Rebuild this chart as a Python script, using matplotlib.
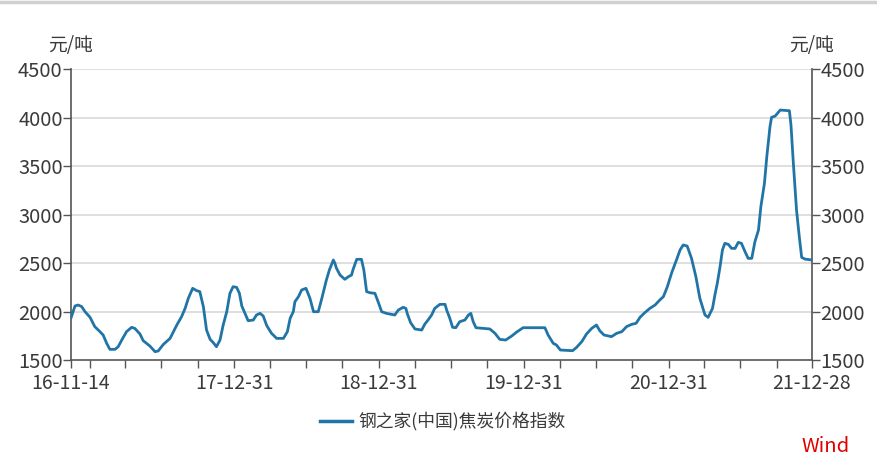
import numpy as np
import pandas as pd
import matplotlib
matplotlib.use('Agg')
import matplotlib.pyplot as plt
import matplotlib.dates as mdates
from matplotlib.lines import Line2D

plt.rcParams['font.family'] = ['Noto Sans CJK SC', 'DejaVu Sans']

# 钢之家(中国)焦炭价格指数, 元/吨
dates = [
    '2016-11-14', '2016-11-24', '2016-12-02', '2016-12-11', '2016-12-19', '2017-01-01',
    '2017-01-13', '2017-01-26', '2017-02-03', '2017-02-12', '2017-02-20', '2017-03-05',
    '2017-03-13', '2017-03-22', '2017-04-03', '2017-04-16', '2017-04-24', '2017-05-07',
    '2017-05-15', '2017-06-01', '2017-06-14', '2017-06-22', '2017-07-05', '2017-07-22',
    '2017-08-08', '2017-08-20', '2017-08-29', '2017-09-06', '2017-09-17', '2017-09-27',
    '2017-10-05', '2017-10-14', '2017-10-22', '2017-10-31', '2017-11-08', '2017-11-16',
    '2017-11-25', '2017-12-03', '2017-12-12', '2017-12-20', '2017-12-28', '2018-01-06',
    '2018-01-13', '2018-01-19', '2018-01-27', '2018-02-04', '2018-02-17', '2018-02-25',
    '2018-03-06', '2018-03-14', '2018-03-23', '2018-04-04', '2018-04-17', '2018-05-04',
    '2018-05-14', '2018-05-21', '2018-05-29', '2018-06-02', '2018-06-11', '2018-06-19',
    '2018-06-30', '2018-07-10', '2018-07-19', '2018-07-31', '2018-08-09', '2018-08-20',
    '2018-08-28', '2018-09-07', '2018-09-11', '2018-09-15', '2018-09-24', '2018-10-06',
    '2018-10-15', '2018-10-23', '2018-10-27', '2018-11-05', '2018-11-17', '2018-11-23',
    '2018-11-30', '2018-12-08', '2018-12-21', '2018-12-29', '2019-01-07', '2019-01-19',
    '2019-02-09', '2019-02-18', '2019-03-02', '2019-03-09', '2019-03-13', '2019-03-21',
    '2019-04-01', '2019-04-18', '2019-04-26', '2019-05-04', '2019-05-13', '2019-05-21',
    '2019-06-03', '2019-06-16', '2019-06-20', '2019-06-28', '2019-07-05', '2019-07-13',
    '2019-07-23', '2019-08-05', '2019-08-14', '2019-08-20', '2019-08-26', '2019-09-02',
    '2019-10-07', '2019-10-20', '2019-11-01', '2019-11-16', '2019-12-01', '2019-12-15',
    '2019-12-30', '2020-02-23', '2020-03-02', '2020-03-15', '2020-03-23', '2020-04-02',
    '2020-05-03', '2020-05-13', '2020-05-26', '2020-06-07', '2020-06-20', '2020-07-02',
    '2020-07-11', '2020-07-21', '2020-08-09', '2020-08-22', '2020-09-04', '2020-09-16',
    '2020-09-29', '2020-10-10', '2020-10-20', '2020-11-01', '2020-11-14', '2020-11-27',
    '2020-12-09', '2020-12-18', '2020-12-28', '2021-01-08', '2021-01-20', '2021-01-29',
    '2021-02-06', '2021-02-16', '2021-02-27', '2021-03-10', '2021-03-20', '2021-04-02',
    '2021-04-10', '2021-04-21', '2021-04-27', '2021-05-03', '2021-05-10', '2021-05-16',
    '2021-05-22', '2021-05-31', '2021-06-08', '2021-06-17', '2021-06-25', '2021-07-03',
    '2021-07-12', '2021-07-20', '2021-07-29', '2021-08-06', '2021-08-15', '2021-08-21',
    '2021-08-30', '2021-09-05', '2021-09-13', '2021-09-17', '2021-09-26', '2021-10-09',
    '2021-11-01', '2021-11-05', '2021-11-11', '2021-11-19', '2021-11-26', '2021-12-02',
    '2021-12-10', '2021-12-28',
]
prices = [
    1935, 2057, 2067, 2050, 2000, 1940,
    1844, 1792, 1758, 1672, 1610, 1610,
    1637, 1706, 1792, 1837, 1826, 1768,
    1700, 1644, 1586, 1593, 1661, 1723,
    1861, 1947, 2033, 2136, 2239, 2215,
    2205, 2050, 1809, 1713, 1679, 1637,
    1706, 1861, 1998, 2187, 2256, 2249,
    2187, 2057, 1981, 1905, 1912, 1964,
    1981, 1954, 1854, 1775, 1723, 1723,
    1792, 1930, 1998, 2101, 2153, 2222,
    2239, 2136, 1998, 1998, 2136, 2318,
    2428, 2531, 2497, 2445, 2376, 2332,
    2359, 2376, 2435, 2538, 2538, 2428,
    2205, 2194, 2187, 2101, 1998, 1981,
    1964, 2015, 2043, 2033, 1974, 1885,
    1820, 1809, 1871, 1912, 1964, 2033,
    2074, 2074, 2015, 1930, 1837, 1833,
    1895, 1912, 1964, 1981, 1895, 1833,
    1820, 1775, 1713, 1706, 1747, 1792,
    1833, 1833, 1758, 1672, 1655, 1603,
    1596, 1631, 1689, 1768, 1826, 1861,
    1799, 1758, 1741, 1775, 1792, 1844,
    1868, 1878, 1940, 1988, 2033, 2067,
    2119, 2153, 2256, 2400, 2531, 2634,
    2686, 2675, 2548, 2359, 2136, 1964,
    1940, 2033, 2170, 2290, 2462, 2634,
    2703, 2692, 2651, 2651, 2713, 2703,
    2617, 2548, 2548, 2720, 2840, 3081,
    3321, 3596, 3905, 4002, 4015, 4077,
    4070, 3923, 3528, 3046, 2771, 2558,
    2541, 2531,
]
major_ticks = ['2016-11-14', '2017-12-31', '2018-12-31', '2019-12-31', '2020-12-31', '2021-12-28']
major_labels = ['16-11-14', '17-12-31', '18-12-31', '19-12-31', '20-12-31', '21-12-28']
yticks = [1500, 2000, 2500, 3000, 3500, 4000, 4500]
series_name = '钢之家(中国)焦炭价格指数'

x = pd.to_datetime(dates)
start, end = pd.Timestamp(major_ticks[0]), pd.Timestamp(major_ticks[-1])
minor = pd.date_range(start, end, freq='QE')

line_c = '#2175a6'
axis_c = '#555555'
text_c = '#3a3a3a'

fig = plt.figure(figsize=(8.78, 4.67), dpi=100)
ax = fig.add_axes([0.0809, 0.2291, 0.8439, 0.6231])

for v in yticks[1:]:
    ax.axhline(v, color='#dcdcdc', lw=1.3, zorder=1)
ax.plot(x, prices, color=line_c, lw=2.0, zorder=3)

ax.set_xlim(start, end)
ax.set_ylim(1500, 4500)
ax.set_yticks(yticks)
ax.set_yticklabels([str(v) for v in yticks], fontsize=14.5, color=text_c)
ax.tick_params(axis='y', which='both', direction='out', length=6, width=1, color=axis_c,
               pad=0, left=True, right=True, labelleft=True, labelright=True)

ax.set_xticks(pd.to_datetime(major_ticks))
ax.set_xticklabels(major_labels, fontsize=14, color=text_c)
ax.set_xticks(minor, minor=True)
ax.tick_params(axis='x', which='both', direction='out', length=6, width=1, color=axis_c, pad=3)

ax.spines['top'].set_visible(False)
for s in ['left', 'right', 'bottom']:
    ax.spines[s].set_color(axis_c)
    ax.spines[s].set_linewidth(1.2)

fig.text(71 / 878, 1 - 45 / 467, '元/吨', ha='center', va='center', fontsize=13.5, color=text_c)
fig.text(812 / 878, 1 - 45 / 467, '元/吨', ha='center', va='center', fontsize=13.5, color=text_c)

# legend
fig.add_artist(Line2D([320 / 878, 352 / 878], [1 - 421 / 467] * 2, color=line_c, lw=2.5))
fig.text(358 / 878, 1 - 421 / 467, series_name, ha='left', va='center', fontsize=12.8, color=text_c)

fig.text(826 / 878, 1 - 446 / 467, 'Wind', ha='center', va='center', fontsize=14.5, color='#e00000')

# grey strip at the top edge
fig.add_artist(Line2D([0, 1], [1 - 1.5 / 467] * 2, color='#d0d0d0', lw=2.5))

fig.savefig('out.png', dpi=100)
